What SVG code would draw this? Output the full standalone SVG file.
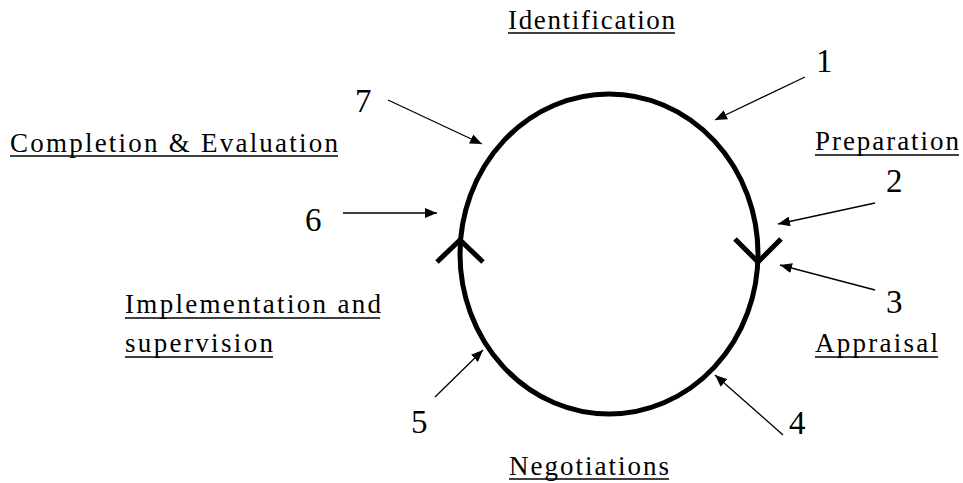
<svg xmlns="http://www.w3.org/2000/svg" width="963" height="483" viewBox="0 0 963 483">
<style>
.lbl{font-family:"Liberation Serif","Times New Roman",serif;font-size:27px;fill:#000}
.num{font-family:"Liberation Serif","Times New Roman",serif;font-size:33px;fill:#000}
.ul{stroke:#000;stroke-width:1.6}
.ptr{stroke:#000;stroke-width:1.3;fill:none;marker-end:url(#ah)}
.cyc{stroke:#000;stroke-width:5;fill:none}
.chev{stroke:#000;stroke-width:5;fill:none;stroke-linecap:butt;stroke-linejoin:miter}
</style>
<defs>
<marker id="ah" viewBox="0 0 12 10" refX="12" refY="5" markerWidth="12" markerHeight="10" markerUnits="userSpaceOnUse" orient="auto">
<path d="M0,0 L12,5 L0,10 z" fill="#000"/>
</marker>
</defs>
<rect width="963" height="483" fill="#fff"/>
<g id="cycle">
<ellipse class="cyc" cx="609" cy="254" rx="149" ry="160"/>
<polyline class="chev" points="437,262 460,240 483,262"/>
<polyline class="chev" points="735,239 758,262 781,239"/>
</g>
<g id="connectors">
<line class="ptr" x1="805" y1="77" x2="715" y2="120"/>
<line class="ptr" x1="875" y1="203" x2="778" y2="224"/>
<line class="ptr" x1="875" y1="290" x2="780" y2="265"/>
<line class="ptr" x1="783" y1="435" x2="715" y2="375"/>
<line class="ptr" x1="435" y1="397" x2="483" y2="350"/>
<line class="ptr" x1="343" y1="213" x2="437" y2="213"/>
<line class="ptr" x1="388" y1="100" x2="482" y2="144"/>
</g>
<g id="identification">
<text class="lbl" x="508" y="29" textLength="167" lengthAdjust="spacing">Identification</text>
<line class="ul" x1="508" y1="33" x2="675" y2="33"/>
</g>
<g id="preparation">
<text class="lbl" x="815" y="150" textLength="144" lengthAdjust="spacing">Preparation</text>
<line class="ul" x1="815" y1="155" x2="959" y2="155"/>
</g>
<g id="appraisal">
<text class="lbl" x="815" y="352" textLength="123" lengthAdjust="spacing">Appraisal</text>
<line class="ul" x1="815" y1="357" x2="938" y2="357"/>
</g>
<g id="negotiations">
<text class="lbl" x="509" y="475" textLength="160" lengthAdjust="spacing">Negotiations</text>
<line class="ul" x1="509" y1="479" x2="669" y2="479"/>
</g>
<g id="implementation">
<text class="lbl" x="125" y="313" textLength="256" lengthAdjust="spacing">Implementation and</text>
<line class="ul" x1="125" y1="318" x2="380" y2="318"/>
<text class="lbl" x="125" y="352" textLength="148" lengthAdjust="spacing">supervision</text>
<line class="ul" x1="125" y1="357" x2="273" y2="357"/>
</g>
<g id="completion">
<text class="lbl" x="10" y="152" textLength="328" lengthAdjust="spacing">Completion &amp; Evaluation</text>
<line class="ul" x1="10" y1="156" x2="338" y2="156"/>
</g>
<g id="numbers">
<text class="num" x="816" y="72">1</text>
<text class="num" x="886" y="192">2</text>
<text class="num" x="886" y="313">3</text>
<text class="num" x="789" y="434">4</text>
<text class="num" x="411" y="433">5</text>
<text class="num" x="305" y="231">6</text>
<text class="num" x="355" y="112">7</text>
</g>
</svg>
